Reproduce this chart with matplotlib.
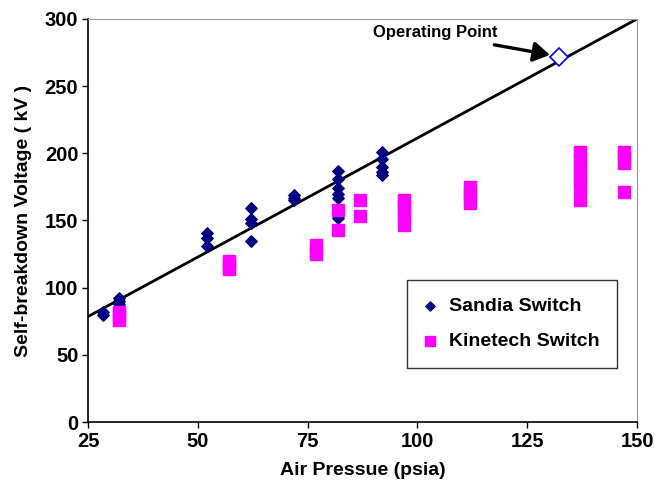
import numpy as np
import matplotlib.pyplot as plt

plt.rcParams['font.family'] = ['Liberation Sans', 'DejaVu Sans']
plt.rcParams['font.weight'] = 'bold'

# Sandia switch measurements (psia, kV)
sandia_p = [28.5, 28.5, 32, 32, 32,
            52, 52, 52,
            62, 62, 62, 62,
            72, 72, 72,
            82, 82, 82, 82, 82, 82,
            92, 92, 92, 92, 92]
sandia_v = [80, 82, 88, 90, 92,
            141, 137, 131,
            159, 151, 148, 135,
            165, 167, 169,
            187, 181, 174, 170, 167, 152,
            201, 196, 190, 186, 184]

# Kinetech switch measurements (psia, kV)
kin_p = [32, 32, 32,
         57, 57, 57,
         77, 77, 77,
         82, 82,
         87, 87,
         97, 97, 97, 97, 97,
         112, 112, 112, 112,
         137, 137, 137, 137, 137, 137, 137,
         147, 147, 147, 147]
kin_v = [76, 79, 82,
         114, 117, 120,
         125, 128, 132,
         158, 143,
         165, 153,
         147, 152, 157, 161, 165,
         163, 167, 171, 175,
         175, 180, 185, 190, 195, 201, 165,
         193, 197, 201, 171]

# design line and operating point
line_p = [25, 150]
line_v = [78.5, 300]
op_p = [132.3]
op_v = [272]

fig = plt.figure(figsize=(6.55, 4.83), dpi=100)
ax = fig.add_axes([88/655, 1-422/483, (637-88)/655, (422-19)/483])

ax.plot(line_p, line_v, color='black', lw=2, zorder=2)
ax.scatter(sandia_p, sandia_v, marker='D', s=34, color='#000080', zorder=3,
           label='Sandia Switch')
ax.scatter(kin_p, kin_v, marker='s', s=85, color='#FF00FF', zorder=3,
           label='Kinetech Switch')
ax.plot(op_p, op_v, marker='D', ms=9, mfc='white', mec='#0000FF', mew=1.2,
        ls='none', zorder=4)

# label and arrow for the operating point
ax.text(104, 290, 'Operating Point', fontsize=12, fontweight='bold',
        ha='center', va='center')
ax.annotate('', xy=(130.2, 273.3), xytext=(117.5, 280.8),
            arrowprops=dict(arrowstyle='-|>,head_length=0.5,head_width=0.3',
                            color='black', lw=2.4, mutation_scale=20,
                            shrinkA=0, shrinkB=0),
            zorder=5)

ax.set_xlim(25, 150)
ax.set_ylim(0, 300)
ax.set_xticks([25, 50, 75, 100, 125, 150])
ax.set_yticks([0, 50, 100, 150, 200, 250, 300])
ax.tick_params(direction='out', length=4, width=1, labelsize=14.5, pad=3)
for lab in ax.get_xticklabels() + ax.get_yticklabels():
    lab.set_fontweight('bold')

ax.spines['top'].set_color('#999999')
ax.spines['right'].set_color('#999999')
ax.spines['left'].set_linewidth(1.2)
ax.spines['bottom'].set_linewidth(1.2)

ax.set_xlabel('Air Pressue (psia)', fontsize=14, fontweight='bold', labelpad=8)
ax.set_ylabel('Self-breakdown Voltage ( kV )', fontsize=14, fontweight='bold',
              labelpad=9)

leg = ax.legend(loc='lower right', bbox_to_anchor=(0.9636, 0.134),
                fontsize=14, frameon=True, fancybox=False, edgecolor='black',
                borderpad=0.9, labelspacing=0.9, handletextpad=0.67,
                handlelength=0.6, markerscale=0.8, scatterpoints=1,
                borderaxespad=0)
leg.get_frame().set_linewidth(1)

fig.savefig('out.png', dpi=100)
